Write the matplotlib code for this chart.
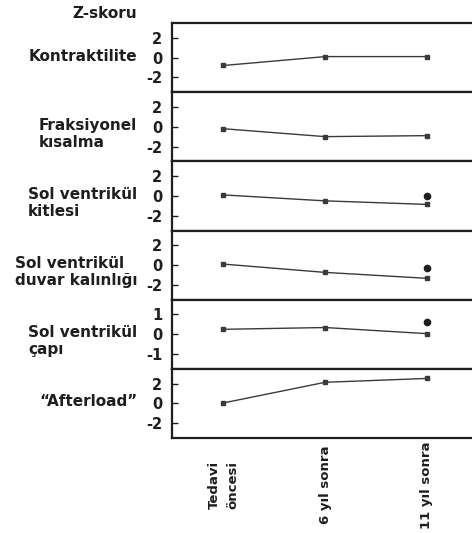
import numpy as np
import matplotlib.pyplot as plt
import matplotlib.transforms as mtransforms

plt.rcParams['font.family'] = ['DejaVu Sans']
plt.rcParams['font.weight'] = 'bold'

INK = '#1e1e1e'
LINE = '#3a3a3a'

# Z-scores over follow-up
times = ['Tedavi\nöncesi', '6 yıl sonra', '11 yıl sonra']
panels = ['Kontraktilite', 'Fraksiyonel\nkısalma', 'Sol ventrikül\nkitlesi',
          'Sol ventrikül\nduvar kalınlığı', 'Sol ventrikül\nçapı', '\u201cAfterload\u201d']
kontraktilite = [-0.8, 0.1, 0.1]
fraksiyonel = [-0.2, -1.0, -0.9]
kitle = [0.1, -0.5, -0.86]
duvar = [0.1, -0.74, -1.34]
cap = [0.25, 0.34, 0.03]
afterload = [0.05, 2.2, 2.6]
series = [kontraktilite, fraksiyonel, kitle, duvar, cap, afterload]

# separate value marked at 11 years (panels 3-5)
extra = {2: 0.0, 3: -0.3, 4: 0.6}

yticks = [[2, 0, -2]] * 4 + [[1, 0, -1], [2, 0, -2]]
ylims = [(-3.5, 3.5)] * 4 + [(-1.75, 1.75), (-3.6, 3.6)]

W, H = 472, 533
fig = plt.figure(figsize=(W / 100, H / 100), dpi=100)

left = 172 / W
width = 316 / W
top = 1 - 23 / H
bottom = 1 - 438 / H
ph = (top - bottom) / 6
x = np.arange(len(times))

axes = []
for i in range(6):
    ax = fig.add_axes([left, top - (i + 1) * ph, width, ph])
    ax.plot(x, series[i], '-', color=LINE, lw=1.0, marker='s', ms=2.3,
            mfc=LINE, mec=LINE)
    if i in extra:
        ax.plot(x[-1], extra[i], 'o', color=INK, ms=4.5)
    ax.set_xlim(-0.505, 2.6)
    ax.set_ylim(*ylims[i])
    ax.set_yticks(yticks[i])
    ax.set_yticklabels([str(t) for t in yticks[i]])
    ax.set_xticks([])
    ax.tick_params(axis='y', direction='in', length=4, width=1, pad=7,
                   labelsize=10.5, colors=INK)
    for s in ax.spines.values():
        s.set_linewidth(1.6)
        s.set_color(INK)
    ax.annotate(panels[i], xy=(0, 0), xycoords=ax.get_yaxis_transform(),
                xytext=(-25, 6.5), textcoords='offset points',
                ha='right', va='top', multialignment='left',
                fontsize=11, color=INK, linespacing=1.15)
    axes.append(ax)

# time labels under the bottom panel
trans = mtransforms.blended_transform_factory(axes[-1].transData, axes[-1].transAxes)
for xi, lab in zip(x, times):
    axes[-1].annotate(lab, xy=(xi, 0), xycoords=trans,
                      xytext=(0, -34), textcoords='offset points',
                      rotation=90, ha='center', va='center',
                      multialignment='left', fontsize=9.5, color=INK,
                      linespacing=1.55)

fig.text(105 / W, 1 - 14 / H, 'Z-skoru', ha='center', va='center',
         fontsize=11, color=INK)

plt.savefig('out.png', dpi=100)
